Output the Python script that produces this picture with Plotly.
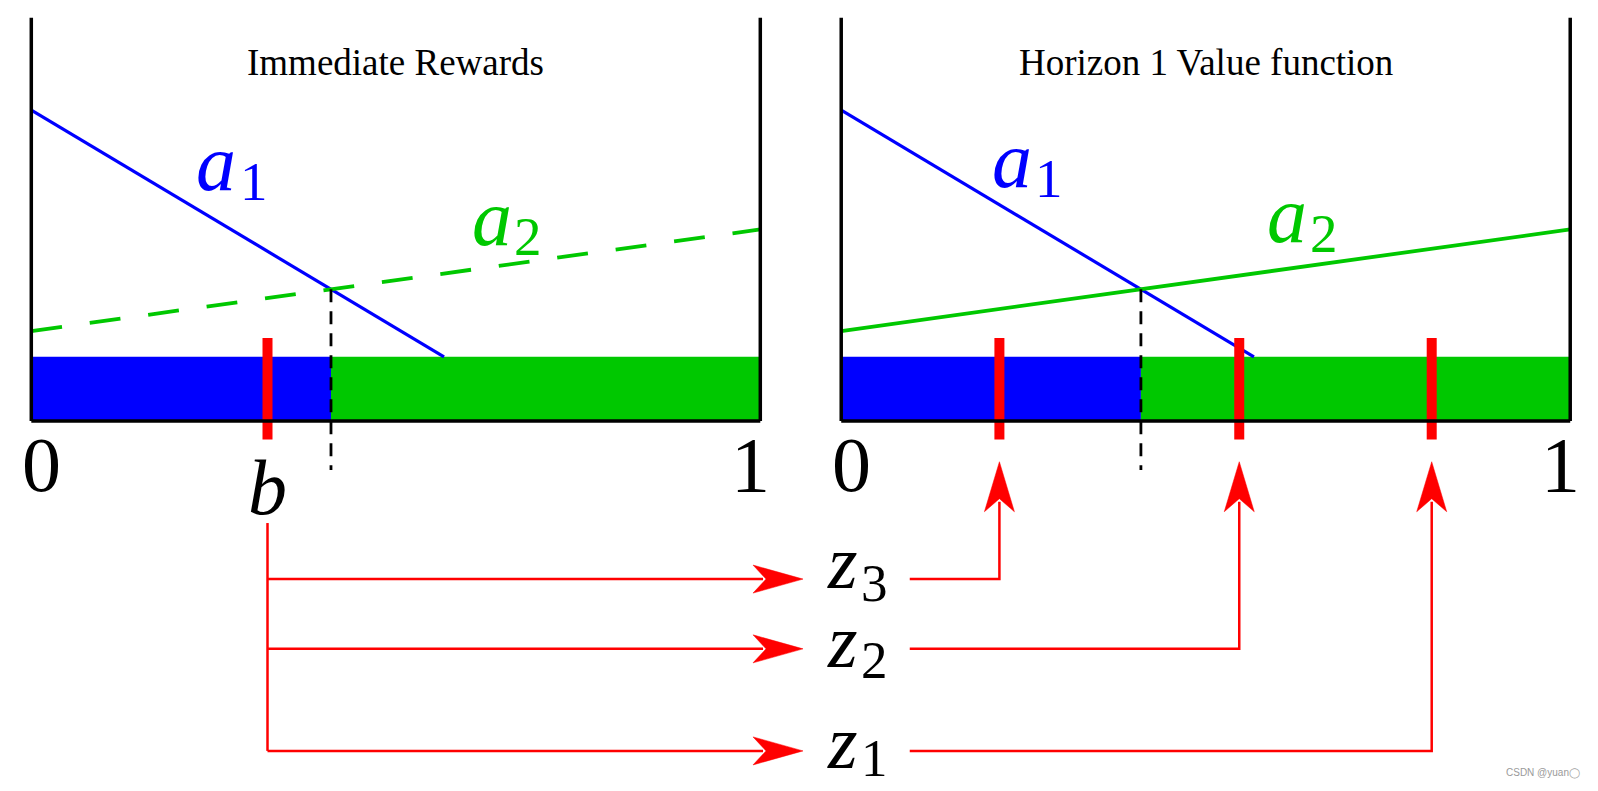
import plotly.graph_objects as go

# ---------------- data ----------------
panel_titles = ["Immediate Rewards", "Horizon 1 Value function"]
action_names = ["a", "a"]
action_subs = ["1", "2"]
a1_values = [0.771, -0.310]     # value of action a1 at belief 0 and belief 1
a2_values = [0.223, 0.475]      # value of action a2 at belief 0 and belief 1
belief_b = 0.324                # current belief b
belief_label = "b"
z_values = [0.217, 0.546, 0.810]          # next beliefs z3, z2, z1
z_names = ["z", "z", "z"]
z_subs = ["3", "2", "1"]
tick_labels = ["0", "1"]

# ---------------- layout constants ----------------
W, H = 1598, 791
X_RANGE = [-0.03196, 2.16008]
Y_RANGE = [-0.93727, 1.02405]
PXX = W / (X_RANGE[1] - X_RANGE[0])
PXY = H / (Y_RANGE[1] - Y_RANGE[0])
OFFSETS = [0.0, 1.111]
BAR_H = 0.159
MARK_TOP, MARK_BOT = 0.206, -0.046
DASH_BOT = -0.1215
TIP_Y = -0.101
ROW_Y = [-0.392, -0.565, -0.818]
B_LINE_TOP = -0.253
H_TIP_X = 1.0586
R_START_X = 1.205

# label placement (letter centre, subscript centre)
ACT_POS = [[(0.254, 0.640), (0.3048, 0.595)], [(0.6313, 0.5036), (0.682, 0.4575)]]
RIGHT_SHIFT = (-0.02, 0.0075)
Z_LETTER_X, Z_SUB_X = 1.1128, 1.1573
Z_LETTER_Y = [-0.3491, -0.5462, -0.7967]
Z_SUB_Y = [-0.4029, -0.5926, -0.8356]

BLUE = "#0000FF"
GREEN = "#00C800"
RED = "#FF0000"
FONT = "Liberation Serif"

fig = go.Figure()

s1 = a1_values[1] - a1_values[0]
s2 = a2_values[1] - a2_values[0]
ix = (a2_values[0] - a1_values[0]) / (s1 - s2)
iy = a1_values[0] + s1 * ix
x_end = (BAR_H - a1_values[0]) / s1


def text(x, y, s, size, color="black", italic=False, **kw):
    fig.add_annotation(x=x, y=y, text=f"<i>{s}</i>" if italic else s, showarrow=False,
                       font=dict(family=FONT, size=size, color=color), **kw)


for p, off in enumerate(OFFSETS):
    # policy bars
    fig.add_trace(go.Bar(x=[off + ix / 2], y=[BAR_H], width=[ix], base=0,
                         marker=dict(color=BLUE, line=dict(width=0)), hoverinfo="skip"))
    fig.add_trace(go.Bar(x=[off + (1 + ix) / 2], y=[BAR_H], width=[1 - ix], base=0,
                         marker=dict(color=GREEN, line=dict(width=0)), hoverinfo="skip"))
    # a1 line
    fig.add_trace(go.Scatter(x=[off, off + x_end],
                             y=[a1_values[0], a1_values[0] + s1 * x_end],
                             mode="lines", line=dict(color=BLUE, width=3.2), hoverinfo="skip"))
    # a2 line
    fig.add_trace(go.Scatter(x=[off, off + 1], y=a2_values, mode="lines",
                             line=dict(color=GREEN, width=3.8,
                                       dash="31px,28px" if p == 0 else "solid"),
                             hoverinfo="skip"))
    # dashed vertical at the intersection
    fig.add_trace(go.Scatter(x=[off + ix, off + ix], y=[iy, DASH_BOT], mode="lines",
                             line=dict(color="black", width=2.8, dash="13px,9px"),
                             hoverinfo="skip"))
    # frame
    for x0, y0, x1, y1 in [(0, 0, 0, 1), (1, 0, 1, 1), (0, 0, 1, 0)]:
        fig.add_shape(type="line", x0=off + x0, y0=y0, x1=off + x1, y1=y1,
                      line=dict(color="black", width=3.5), layer="above")
    # title
    text(off + 0.5, 0.889, panel_titles[p], 37)
    # action labels
    sx, sy = (0, 0) if p == 0 else RIGHT_SHIFT
    for k in range(2):
        (lx, ly), (ux, uy) = ACT_POS[k]
        col = [BLUE, GREEN][k]
        text(off + lx + sx, ly + sy, action_names[k], 80, col, italic=True)
        text(off + ux + sx, uy + sy, action_subs[k], 55, col)
    # tick labels 0 / 1
    text(off, -0.109, tick_labels[0], 78, xshift=10)
    text(off + 1, -0.109, tick_labels[1], 78, xshift=-10)

# belief markers
marks = [belief_b] + [OFFSETS[1] + z for z in z_values]
for mx in marks:
    fig.add_trace(go.Scatter(x=[mx, mx], y=[MARK_BOT, MARK_TOP], mode="lines",
                             line=dict(color=RED, width=10), hoverinfo="skip"))

text(belief_b, -0.165, belief_label, 78, italic=True)


def arrowhead(tx, ty, direction, L=50, Wd=15, N=13):
    dx, dy = 1 / PXX, 1 / PXY
    if direction == "up":
        xs = [tx, tx - Wd * dx, tx, tx + Wd * dx, tx]
        ys = [ty, ty - L * dy, ty - (L - N) * dy, ty - L * dy, ty]
    else:
        xs = [tx, tx - L * dx, tx - (L - N) * dx, tx - L * dx, tx]
        ys = [ty, ty + Wd * dy, ty, ty - Wd * dy, ty]
    fig.add_trace(go.Scatter(x=xs, y=ys, mode="lines", fill="toself", fillcolor=RED,
                             line=dict(color=RED, width=0.5), hoverinfo="skip"))


# vertical line from b
fig.add_trace(go.Scatter(x=[belief_b, belief_b], y=[B_LINE_TOP, ROW_Y[-1]], mode="lines",
                         line=dict(color=RED, width=2.5), hoverinfo="skip"))
for k, z in enumerate(z_values):
    ry = ROW_Y[k]
    # b -> z_k arrow
    fig.add_trace(go.Scatter(x=[belief_b, H_TIP_X - 40 / PXX], y=[ry, ry], mode="lines",
                             line=dict(color=RED, width=2.5), hoverinfo="skip"))
    arrowhead(H_TIP_X, ry, "right", Wd=14)
    text(Z_LETTER_X, Z_LETTER_Y[k], z_names[k], 76, italic=True)
    text(Z_SUB_X, Z_SUB_Y[k], z_subs[k], 53)
    # z_k -> right panel arrow
    zx = OFFSETS[1] + z
    fig.add_trace(go.Scatter(x=[R_START_X, zx, zx], y=[ry, ry, TIP_Y - 40 / PXY],
                             mode="lines", line=dict(color=RED, width=2.5), hoverinfo="skip"))
    arrowhead(zx, TIP_Y, "up")

fig.add_annotation(x=0.985, y=0.0228, xref="paper", yref="paper", xanchor="right",
                   yanchor="bottom", text="CSDN @yuan◯", showarrow=False,
                   font=dict(family="Liberation Sans", size=10, color="#9a9a9a"))

fig.update_layout(
    width=W, height=H, margin=dict(l=0, r=0, t=0, b=0),
    paper_bgcolor="white", plot_bgcolor="white",
    showlegend=False, barmode="overlay",
    xaxis=dict(range=X_RANGE, visible=False, fixedrange=True),
    yaxis=dict(range=Y_RANGE, visible=False, fixedrange=True),
)

fig.write_html("out.html")
